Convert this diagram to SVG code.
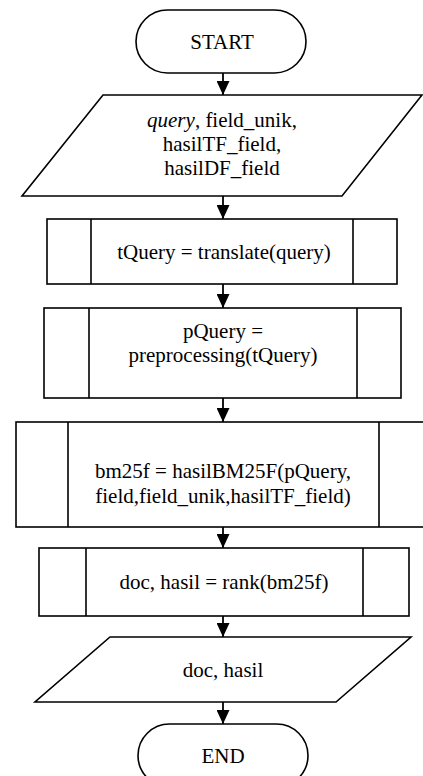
<svg xmlns="http://www.w3.org/2000/svg" width="423" height="776" viewBox="0 0 423 776" font-family="'Liberation Serif', 'Times New Roman', serif" font-size="21">
<style>
.s{fill:#fff;stroke:#000;stroke-width:1.6}
.l{fill:none;stroke:#000;stroke-width:1.6}
.c{stroke:#000;stroke-width:1.8;fill:none;marker-end:url(#ah)}
.t{font-family:'Liberation Serif','Times New Roman',serif;font-size:21px;fill:#000;text-anchor:middle}
</style>
<defs>
<marker id="ah" markerUnits="userSpaceOnUse" markerWidth="14" markerHeight="13" viewBox="0 0 14 13" refX="14" refY="6.5" orient="auto">
<path d="M0,0 L14,6.5 L0,13 z" fill="#000"/>
</marker>
</defs>
<g id="connectors">
<line class="c" x1="223" y1="73" x2="223" y2="95"/>
<line class="c" x1="223" y1="196" x2="223" y2="219"/>
<line class="c" x1="223" y1="284" x2="223" y2="308"/>
<line class="c" x1="223" y1="398" x2="223" y2="422"/>
<line class="c" x1="223" y1="527" x2="223" y2="548"/>
<line class="c" x1="223" y1="616" x2="223" y2="637"/>
<line class="c" x1="223" y1="702" x2="223" y2="724"/>
</g>
<g id="start">
<rect class="s" x="136" y="10" width="170" height="63" rx="31.5" ry="31.5"/>
<text class="t" x="222" y="49" font-family="Liberation Serif" font-size="21" text-anchor="middle">START</text>
</g>
<g id="input">
<polygon class="s" points="103,95 422,95 342,196 22,196"/>
<text class="t" x="222" y="127" font-family="Liberation Serif" font-size="21" text-anchor="middle"><tspan font-style="italic">query</tspan>, field_unik,</text>
<text class="t" x="222" y="151" font-family="Liberation Serif" font-size="21" text-anchor="middle">hasilTF_field,</text>
<text class="t" x="222" y="175" font-family="Liberation Serif" font-size="21" text-anchor="middle">hasilDF_field</text>
</g>
<g id="translate">
<rect class="s" x="47" y="219" width="350" height="65"/>
<line class="l" x1="91" y1="219" x2="91" y2="284"/>
<line class="l" x1="353" y1="219" x2="353" y2="284"/>
<text class="t" x="224" y="259" font-family="Liberation Serif" font-size="21" text-anchor="middle">tQuery = translate(query)</text>
</g>
<g id="preprocessing">
<rect class="s" x="44" y="308" width="357" height="90"/>
<line class="l" x1="89" y1="308" x2="89" y2="398"/>
<line class="l" x1="357" y1="308" x2="357" y2="398"/>
<text class="t" x="223" y="338" font-family="Liberation Serif" font-size="21" text-anchor="middle">pQuery =</text>
<text class="t" x="223" y="362" font-family="Liberation Serif" font-size="21" text-anchor="middle">preprocessing(tQuery)</text>
</g>
<g id="bm25f">
<rect class="s" x="16" y="422" width="415" height="105"/>
<line class="l" x1="68" y1="422" x2="68" y2="527"/>
<line class="l" x1="379" y1="422" x2="379" y2="527"/>
<text class="t" x="223" y="478" font-family="Liberation Serif" font-size="21" text-anchor="middle">bm25f = hasilBM25F(pQuery,</text>
<text class="t" x="223" y="503" font-family="Liberation Serif" font-size="21" text-anchor="middle">field,field_unik,hasilTF_field)</text>
</g>
<g id="rank">
<rect class="s" x="39" y="548" width="370" height="68"/>
<line class="l" x1="86" y1="548" x2="86" y2="616"/>
<line class="l" x1="363" y1="548" x2="363" y2="616"/>
<text class="t" x="224" y="589" font-family="Liberation Serif" font-size="21" text-anchor="middle">doc, hasil = rank(bm25f)</text>
</g>
<g id="output">
<polygon class="s" points="110,637 411,637 336,702 35,702"/>
<text class="t" x="223" y="677" font-family="Liberation Serif" font-size="21" text-anchor="middle">doc, hasil</text>
</g>
<g id="end">
<rect class="s" x="138" y="724" width="170" height="63" rx="31.5" ry="31.5"/>
<text class="t" x="223" y="763" font-family="Liberation Serif" font-size="21" text-anchor="middle">END</text>
</g>
</svg>
